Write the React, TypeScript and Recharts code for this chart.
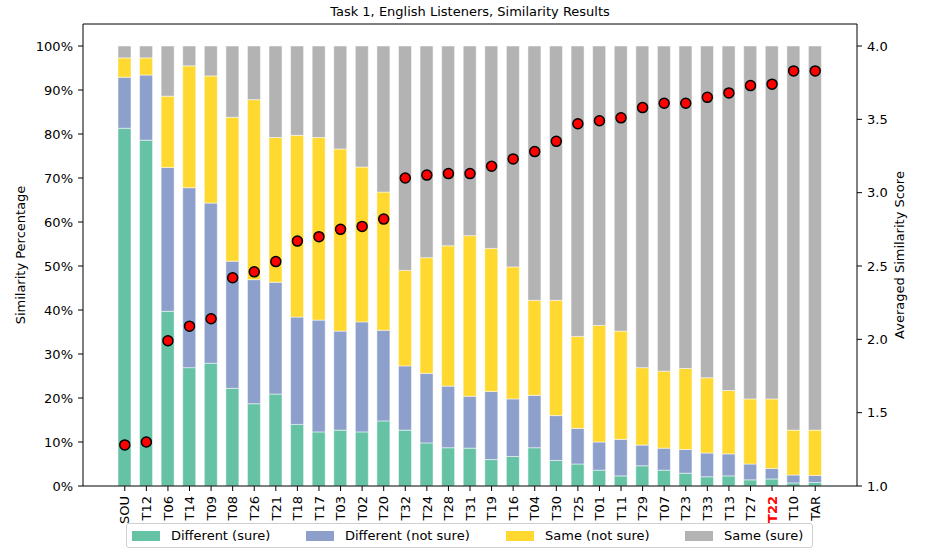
import React from 'react';
import { ComposedChart, Bar, Scatter, XAxis, YAxis, ReferenceLine } from 'recharts';

const systems = [
  'SOU', 'T12', 'T06', 'T14', 'T09', 'T08', 'T26', 'T21', 'T18', 'T17', 'T03',
  'T02', 'T20', 'T32', 'T24', 'T28', 'T31', 'T19', 'T16', 'T04', 'T30', 'T25',
  'T01', 'T11', 'T29', 'T07', 'T23', 'T33', 'T13', 'T27', 'T22', 'T10', 'TAR',
];

const diffSure = [
  81.3, 78.6, 39.7, 26.9, 27.9, 22.2, 18.7, 20.9, 14.0, 12.3, 12.7,
  12.3, 14.8, 12.7, 9.8, 8.7, 8.6, 6.0, 6.7, 8.7, 5.8, 5.0,
  3.6, 2.3, 4.6, 3.6, 2.9, 2.1, 2.3, 1.4, 1.6, 0.7, 0.8,
];
const diffNotSure = [
  11.6, 14.8, 32.7, 40.9, 36.4, 28.9, 28.2, 25.4, 24.4, 25.4, 22.5,
  25.0, 20.6, 14.6, 15.8, 14.0, 11.8, 15.5, 13.1, 11.9, 10.2, 8.1,
  6.4, 8.3, 4.7, 5.0, 5.4, 5.4, 5.0, 3.6, 2.4, 1.8, 1.6,
];
const sameNotSure = [
  4.4, 3.9, 16.2, 27.7, 28.9, 32.7, 40.9, 32.9, 41.3, 41.5, 41.4,
  35.2, 31.4, 21.7, 26.3, 31.9, 36.5, 32.5, 30.0, 21.6, 26.2, 20.9,
  26.5, 24.6, 17.6, 17.5, 18.4, 17.1, 14.4, 14.8, 15.8, 10.2, 10.3,
];
const sameSure = [
  2.7, 2.7, 11.4, 4.5, 6.8, 16.2, 12.2, 20.8, 20.3, 20.8, 23.4,
  27.5, 33.2, 51.0, 48.1, 45.4, 43.1, 46.0, 50.2, 57.8, 57.8, 66.0,
  63.5, 64.8, 73.1, 73.9, 73.3, 75.4, 78.3, 80.2, 80.2, 87.3, 87.3,
];
const avgScore = [
  1.28, 1.30, 1.99, 2.09, 2.14, 2.42, 2.46, 2.53, 2.67, 2.70, 2.75,
  2.77, 2.82, 3.10, 3.12, 3.13, 3.13, 3.18, 3.23, 3.28, 3.35, 3.47,
  3.49, 3.51, 3.58, 3.61, 3.61, 3.65, 3.68, 3.73, 3.74, 3.83, 3.83,
];

const pctTicks = [0, 10, 20, 30, 40, 50, 60, 70, 80, 90, 100];
const scoreTicks = [1.0, 1.5, 2.0, 2.5, 3.0, 3.5, 4.0];
const highlighted = 'T22';

const series = [
  { key: 'diffSure', name: 'Different (sure)', color: '#66c2a5' },
  { key: 'diffNotSure', name: 'Different (not sure)', color: '#8da0cb' },
  { key: 'sameNotSure', name: 'Same (not sure)', color: '#ffd92f' },
  { key: 'sameSure', name: 'Same (sure)', color: '#b3b3b3' },
];
// legend item widths (swatch + text + gap)
const legendWidths = [174, 200, 179, 122];

const data = systems.map((name, i) => ({
  name,
  diffSure: diffSure[i],
  diffNotSure: diffNotSure[i],
  sameNotSure: sameNotSure[i],
  sameSure: sameSure[i],
  score: avgScore[i],
}));

const FONT = '"DejaVu Sans", sans-serif';

const XTick = (props: any) => {
  const { x, y, payload } = props;
  const hot = payload.value === highlighted;
  return (
    <g transform={`translate(${x},${y})`}>
      <text
        transform="rotate(-90)"
        textAnchor="end"
        dy="0.36em"
        fontSize={13}
        fontFamily={FONT}
        fill={hot ? '#ff0000' : '#000'}
        fontWeight={hot ? 'bold' : 'normal'}
      >
        {payload.value}
      </text>
    </g>
  );
};

const Dot = (props: any) => (
  <circle cx={props.cx} cy={props.cy} r={5} fill="#ff0000" stroke="#000" strokeWidth={1.5} />
);

const sideLabel = (text: string, x: number) => (props: any) => {
  const vb = props.viewBox || {};
  const cy = (vb.y ?? 24) + (vb.height ?? 462) / 2;
  return (
    <text
      x={x}
      y={cy}
      transform={`rotate(-90, ${x}, ${cy})`}
      textAnchor="middle"
      fontSize={13}
      fontFamily={FONT}
      fill="#000"
    >
      {text}
    </text>
  );
};

const App: React.FC = () => {
  return (
    <div style={{ position: 'absolute', left: 0, top: 0, width: 926, height: 552, background: '#fff', fontFamily: FONT }}>
      <div
        style={{
          position: 'absolute', top: 4, left: 83, width: 774, textAlign: 'center',
          fontSize: 13, lineHeight: '16px', color: '#000',
        }}
      >
        Task 1, English Listeners, Similarity Results
      </div>
      <ComposedChart
        width={926}
        height={552}
        data={data}
        margin={{ top: 24, right: 0, bottom: 0, left: 0 }}
      >
        <XAxis
          dataKey="name"
          interval={0}
          padding={{ left: 31, right: 31 }}
          height={66}
          tick={<XTick />}
          tickSize={5}
          tickMargin={5}
          stroke="#000"
        />
        <YAxis
          yAxisId="left"
          width={83}
          domain={[0, 105]}
          ticks={pctTicks}
          tickFormatter={(v: number) => `${v}%`}
          tick={{ fill: '#000', fontSize: 13, fontFamily: FONT }}
          tickSize={5}
          tickMargin={5}
          stroke="#000"
          allowDataOverflow
          label={sideLabel('Similarity Percentage', 25)}
        />
        <YAxis
          yAxisId="right"
          orientation="right"
          width={69}
          domain={[1, 4.15]}
          ticks={scoreTicks}
          tickFormatter={(v: number) => v.toFixed(1)}
          tick={{ fill: '#000', fontSize: 13, fontFamily: FONT }}
          tickSize={5}
          tickMargin={5}
          stroke="#000"
          allowDataOverflow
          label={sideLabel('Averaged Similarity Score', 904)}
        />
        <ReferenceLine yAxisId="left" y={105} stroke="#000" strokeWidth={1} />
        {series.map((s) => (
          <Bar
            key={s.key}
            yAxisId="left"
            dataKey={s.key}
            name={s.name}
            stackId="sim"
            barSize={13}
            fill={s.color}
            stroke="#ffffff"
            strokeWidth={0.5}
            isAnimationActive={false}
          />
        ))}
        <Scatter yAxisId="right" dataKey="score" shape={<Dot />} isAnimationActive={false} />
      </ComposedChart>
      <div
        style={{
          position: 'absolute', left: 126, top: 523, width: 687, height: 25, boxSizing: 'border-box',
          border: '1px solid #d0d0d0', borderRadius: 3, background: '#fff',
          display: 'flex', alignItems: 'center', paddingLeft: 5, fontSize: 13, color: '#000',
        }}
      >
        {series.map((s, i) => (
          <div key={s.key} style={{ display: 'flex', alignItems: 'center', width: legendWidths[i], flex: 'none' }}>
            <span style={{ display: 'inline-block', width: 28, height: 10, background: s.color, marginRight: 11 }} />
            <span style={{ whiteSpace: 'nowrap' }}>{s.name}</span>
          </div>
        ))}
      </div>
    </div>
  );
};

export default App;
